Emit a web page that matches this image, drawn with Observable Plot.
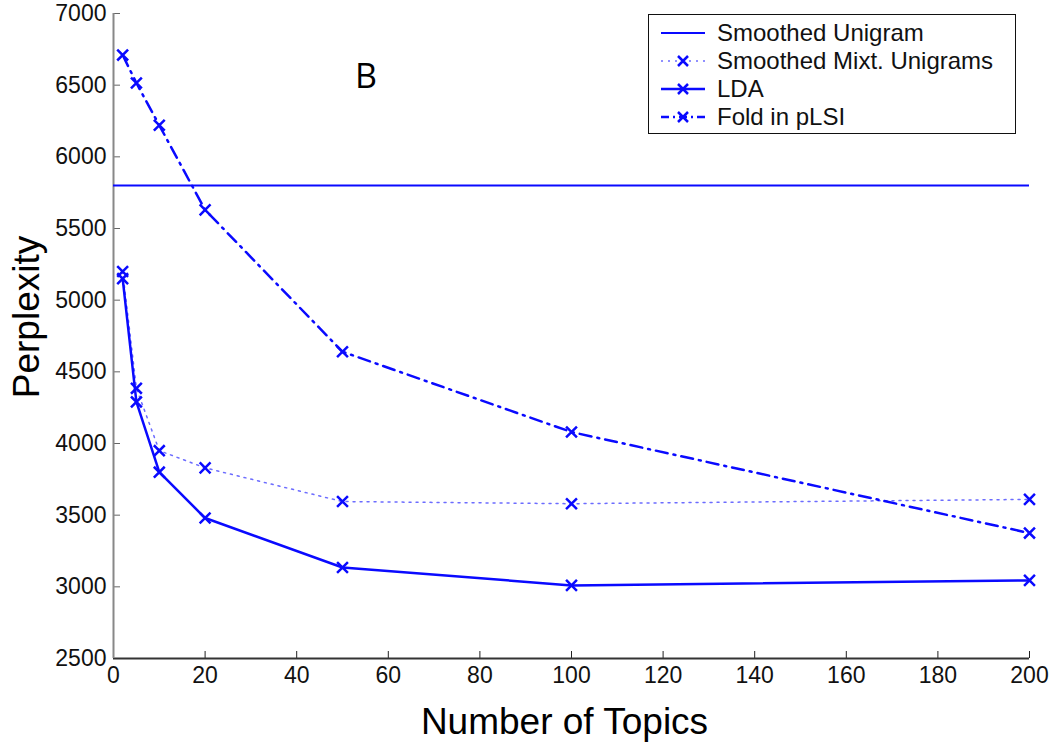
<!DOCTYPE html>
<html><head><meta charset="utf-8">
<script src="https://cdn.jsdelivr.net/npm/d3@7"></script>
<script src="https://cdn.jsdelivr.net/npm/@observablehq/plot@0.6"></script>
<style>
body{margin:0;background:#fff;}
#wrap{position:relative;width:1051px;height:743px;font-family:"Liberation Sans",Arial,sans-serif;}
#legend{position:absolute;left:648px;top:14px;width:368px;height:120px;border:1.5px solid #111;background:#fff;box-sizing:border-box;}
.row{position:absolute;left:12px;height:26px;display:flex;align-items:center;font-size:24px;color:#111;white-space:nowrap;}
.row svg{margin-right:12px;}
#lbl{position:absolute;left:355px;top:52px;font-size:34px;font-family:"Open Sans",sans-serif;color:#000;}
</style></head>
<body><div id="wrap"><div id="chart"></div><div id="lbl">B</div><div id="legend"></div></div>
<script>
const topics = [2, 5, 10, 20, 50, 100, 200];
const smoothedUnigram = 5800;
const mixtUnigrams = [5200, 4385, 3950, 3830, 3595, 3580, 3610];
const lda = [5150, 4290, 3800, 3480, 3135, 3010, 3045];
const foldInPLSI = [6710, 6515, 6220, 5630, 4640, 4080, 3375];
const xTicks = [0, 20, 40, 60, 80, 100, 120, 140, 160, 180, 200];
const yTicks = [2500, 3000, 3500, 4000, 4500, 5000, 5500, 6000, 6500, 7000];

const blue = "#0a0aff";
const mk = arr => topics.map((t, i) => ({x: t, y: arr[i]}));
const mixt = mk(mixtUnigrams), ldaD = mk(lda), plsi = mk(foldInPLSI);

const chart = Plot.plot({
  width: 1051, height: 743,
  marginLeft: 113, marginRight: 22, marginTop: 13, marginBottom: 85,
  style: {fontFamily: '"Liberation Sans", Arial, sans-serif', fontSize: "23px", color: "#111", background: "#fff", overflow: "visible"},
  x: {domain: [0, 200], ticks: xTicks, label: null},
  y: {domain: [2500, 7000], ticks: yTicks, label: null},
  marks: [
    Plot.axisX({ticks: xTicks, tickSize: -7, tickPadding: 15, fontSize: 23, stroke: "#222", label: null, tickFormat: d => String(d)}),
    Plot.axisY({ticks: yTicks, tickSize: -7, tickPadding: 14, fontSize: 23, stroke: "#666", label: null, tickFormat: d => String(d)}),
    Plot.ruleY([2500], {stroke: "#333", strokeWidth: 2}),
    Plot.ruleX([0], {stroke: "#888", strokeWidth: 2}),
    Plot.ruleY([smoothedUnigram], {stroke: blue, strokeWidth: 2}),
    Plot.line(mixt, {x: "x", y: "y", stroke: blue, strokeWidth: 1.5, strokeDasharray: "2,5", strokeOpacity: 0.6}),
    Plot.line(ldaD, {x: "x", y: "y", stroke: blue, strokeWidth: 2.5}),
    Plot.line(plsi, {x: "x", y: "y", stroke: blue, strokeWidth: 2.5, strokeDasharray: "12,6,2,6"}),
    Plot.dot(mixt, {x: "x", y: "y", symbol: "times", r: 5, stroke: blue, strokeWidth: 2.5}),
    Plot.dot(ldaD, {x: "x", y: "y", symbol: "times", r: 5, stroke: blue, strokeWidth: 2.5}),
    Plot.dot(plsi, {x: "x", y: "y", symbol: "times", r: 5, stroke: blue, strokeWidth: 2.5}),
    Plot.text(["Number of Topics"], {frameAnchor: "bottom", dy: 75, dx: -7, fontSize: 37, fill: "#000"}),
    Plot.text(["Perplexity"], {frameAnchor: "left", textAnchor: "middle", dx: -86, dy: -19, rotate: -90, fontSize: 37, fill: "#000"})
  ]
});
document.getElementById("chart").appendChild(chart);

const legendItems = [
  {name: "Smoothed Unigram", dash: null, width: 2, marker: false, opacity: 1},
  {name: "Smoothed Mixt. Unigrams", dash: "2,5", width: 1.5, marker: true, opacity: 0.6},
  {name: "LDA", dash: null, width: 2.5, marker: true, opacity: 1},
  {name: "Fold in pLSI", dash: "8,4,2,4", width: 2.5, marker: true, opacity: 1}
];
const lg = document.getElementById("legend");
legendItems.forEach((it, i) => {
  const row = document.createElement("div");
  row.className = "row";
  row.style.top = (5 + i * 28) + "px";
  const svg = d3.create("svg").attr("width", 44).attr("height", 20);
  svg.append("line").attr("x1", 0).attr("x2", 44).attr("y1", 10).attr("y2", 10)
    .attr("stroke", blue).attr("stroke-width", it.width).attr("stroke-opacity", it.opacity)
    .attr("stroke-dasharray", it.dash);
  if (it.marker) svg.append("path").attr("d", "M17,5L27,15M27,5L17,15").attr("stroke", blue).attr("stroke-width", 2.5);
  row.appendChild(svg.node());
  const t = document.createElement("span");
  t.textContent = it.name;
  row.appendChild(t);
  lg.appendChild(row);
});
</script></body></html>
